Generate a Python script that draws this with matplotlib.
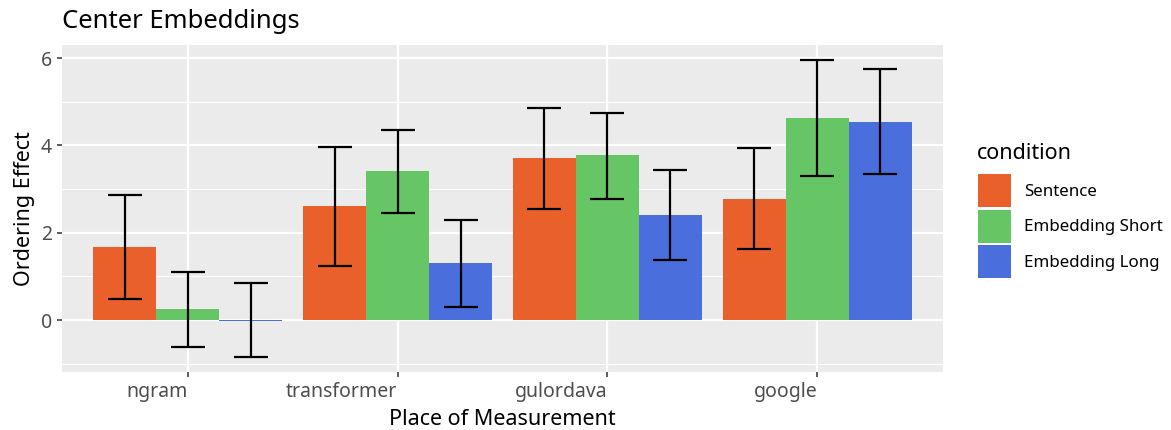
import matplotlib.pyplot as plt
import numpy as np
from matplotlib.patches import Patch

plt.rcParams["font.family"] = ["Noto Sans", "DejaVu Sans"]

# dados
places = ["ngram", "transformer", "gulordava", "google"]
conditions = ["Sentence", "Embedding Short", "Embedding Long"]
colors = ["#E9602A", "#66C666", "#4A6FDC"]

sentence = [1.67, 2.61, 3.71, 2.77]
emb_short = [0.245, 3.41, 3.78, 4.63]
emb_long = [-0.02, 1.31, 2.41, 4.54]

sentence_lo = [0.48, 1.24, 2.54, 1.62]
sentence_hi = [2.86, 3.96, 4.86, 3.93]
short_lo = [-0.62, 2.46, 2.78, 3.31]
short_hi = [1.09, 4.35, 4.74, 5.96]
long_lo = [-0.855, 0.305, 1.37, 3.35]
long_hi = [0.85, 2.30, 3.44, 5.74]

means = [sentence, emb_short, emb_long]
lows = [sentence_lo, short_lo, long_lo]
highs = [sentence_hi, short_hi, long_hi]

fig = plt.figure(figsize=(11.71, 4.30), dpi=100)
ax = fig.add_axes([0.0529, 0.1349, 0.7524, 0.7604])
ax.set_facecolor("#EBEBEB")
for s in ax.spines.values():
    s.set_visible(False)

x = np.arange(1, len(places) + 1)
width = 0.3

# grade
for yv in [-1, 1, 3, 5]:
    ax.axhline(yv, color="white", lw=0.8, zorder=0)
for yv in [0, 2, 4, 6]:
    ax.axhline(yv, color="white", lw=1.6, zorder=0)
for xv in x:
    ax.axvline(xv, color="white", lw=1.6, zorder=0)

for j, (m, lo, hi) in enumerate(zip(means, lows, highs)):
    pos = x + (j - 1) * width
    m = np.array(m)
    ax.bar(pos, m, width=width, color=colors[j], zorder=2, label=conditions[j])
    err = np.vstack([m - np.array(lo), np.array(hi) - m])
    ax.errorbar(pos, m, yerr=err, fmt="none", ecolor="black", elinewidth=1.6,
                capsize=12.5, capthick=1.6, zorder=3)

ax.set_xlim(0.4, 4.6)
ax.set_ylim(-1.19, 6.30)
ax.set_yticks([0, 2, 4, 6])
ax.set_xticks(x)
ax.set_xticklabels(places, ha="right")
ax.tick_params(axis="both", colors="#333333", length=3.5, width=1.1,
               labelsize=14, labelcolor="#4D4D4D")

ax.set_xlabel("Place of Measurement", fontsize=15.5, labelpad=5)
ax.set_ylabel("Ordering Effect", fontsize=15.5, labelpad=4)
ax.set_title("Center Embeddings", fontsize=18.5, loc="left", pad=12)

# legenda
fig.text(977 / 1171, 1 - 159 / 430, "condition", fontsize=15.5, va="baseline")
handles = [Patch(facecolor=c, label=l) for c, l in zip(colors, conditions)]
fig.legend(handles=handles, loc="upper left", bbox_to_anchor=(978 / 1171, 1 - 174 / 430),
           frameon=False, fontsize=12.2, handlelength=1.95, handleheight=2.62,
           labelspacing=0.15, handletextpad=0.75, borderaxespad=0, borderpad=0)

fig.savefig("out.png", dpi=100)
